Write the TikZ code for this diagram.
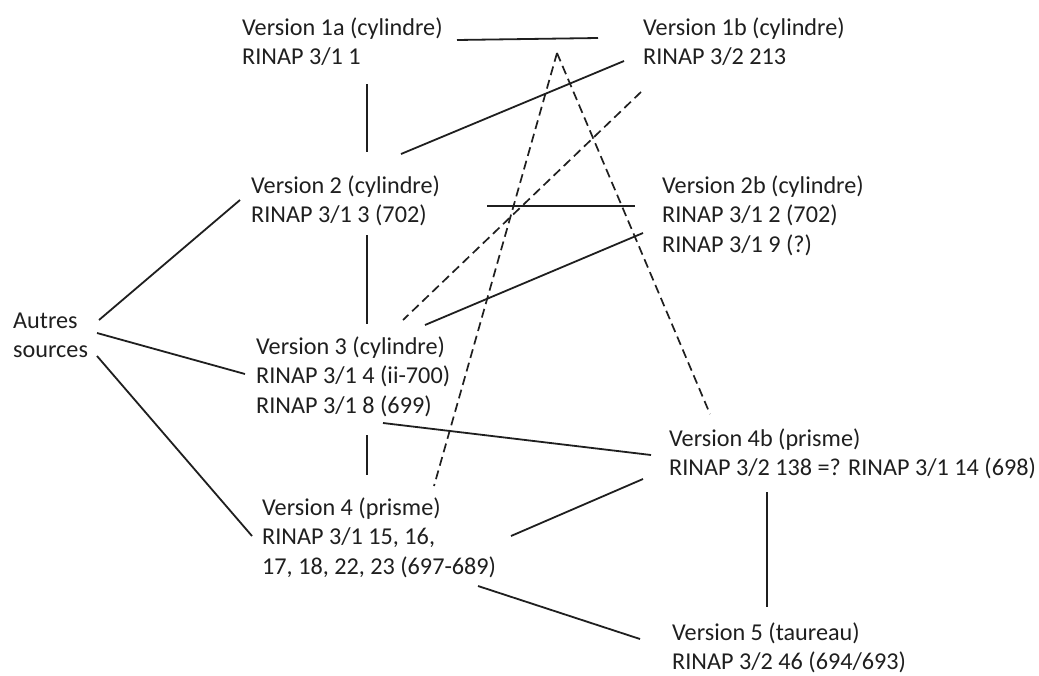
\documentclass[tikz,border=0pt]{standalone}
\usepackage{fontspec}
\setmainfont{Carlito}
\begin{document}
\begin{tikzpicture}[x=1pt,y=-1pt,
  lbl/.style={anchor=base west,align=left,inner sep=0pt,font=\fontsize{24.2}{29.5}\selectfont,text=black!88},
  link/.style={line width=1.8pt,black!88},
  dlink/.style={line width=1.7pt,black!88,dash pattern=on 9pt off 5pt}]
\useasboundingbox[fill=white] (0,0) rectangle (1039,675);
% nodes (anchor = baseline of the last line)
\node[lbl] (v1a) at (242,64.5) {Version 1a (cylindre)\\RINAP 3/1 1};
\node[lbl] (v1b) at (643,64.5) {Version 1b (cylindre)\\RINAP 3/2 213};
\node[lbl] (v2) at (251,222.5) {Version 2 (cylindre)\\RINAP 3/1 3 (702)};
\node[lbl] (v2b) at (662,252) {Version 2b (cylindre)\\RINAP 3/1 2 (702)\\RINAP 3/1 9 (?)};
\node[lbl] (aut) at (13,357.5) {Autres\\sources};
\node[lbl] (v3) at (256,413) {Version 3 (cylindre)\\RINAP 3/1 4 (ii-700)\\RINAP 3/1 8 (699)};
\node[lbl] (v4b) at (669,475.5) {Version 4b (prisme)\\RINAP 3/2 138 =? RINAP 3/1 14 (698)};
\node[lbl] (v4) at (262,574) {Version 4 (prisme)\\RINAP 3/1 15, 16,\\17, 18, 22, 23 (697-689)};
\node[lbl] (v5) at (672,669.5) {Version 5 (taureau)\\RINAP 3/2 46 (694/693)};
% connector end points
\coordinate (a1) at (457,40);  \coordinate (b1) at (598,38);
\coordinate (a2) at (367,84);  \coordinate (b2) at (367,152);
\coordinate (a3) at (401,154); \coordinate (b3) at (624,61);
\coordinate (a4) at (487,206); \coordinate (b4) at (635,206);
\coordinate (a5) at (367,235); \coordinate (b5) at (367,324);
\coordinate (a6) at (425,325); \coordinate (b6) at (643,233);
\coordinate (a7) at (99,320);  \coordinate (b7) at (240,200);
\coordinate (a8) at (97,333);  \coordinate (b8) at (245,374);
\coordinate (a9) at (97,356);  \coordinate (b9) at (252,536);
\coordinate (a10) at (383,423); \coordinate (b10) at (651,455);
\coordinate (a11) at (367,435); \coordinate (b11) at (367,475);
\coordinate (a12) at (511,536); \coordinate (b12) at (643,479);
\coordinate (a13) at (478,586); \coordinate (b13) at (640,639);
\coordinate (a14) at (767,492); \coordinate (b14) at (767,607);
\coordinate (apex) at (557,53);
\coordinate (dA) at (710,414);
\coordinate (dB) at (434,486);
\coordinate (c1) at (641,92);  \coordinate (c2) at (403,320);
% solid connectors
\draw[link] (a1) -- (b1);
\draw[link] (a2) -- (b2);
\draw[link] (a3) -- (b3);
\draw[link] (a4) -- (b4);
\draw[link] (a5) -- (b5);
\draw[link] (a6) -- (b6);
\draw[link] (a7) -- (b7);
\draw[link] (a8) -- (b8);
\draw[link] (a9) -- (b9);
\draw[link] (a10) -- (b10);
\draw[link] (a11) -- (b11);
\draw[link] (a12) -- (b12);
\draw[link] (a13) -- (b13);
\draw[link] (a14) -- (b14);
% dashed connectors
\draw[dlink] (apex) -- (dA);
\draw[dlink] (apex) -- (dB);
\draw[dlink] (c1) -- (c2);
\end{tikzpicture}
\end{document}
